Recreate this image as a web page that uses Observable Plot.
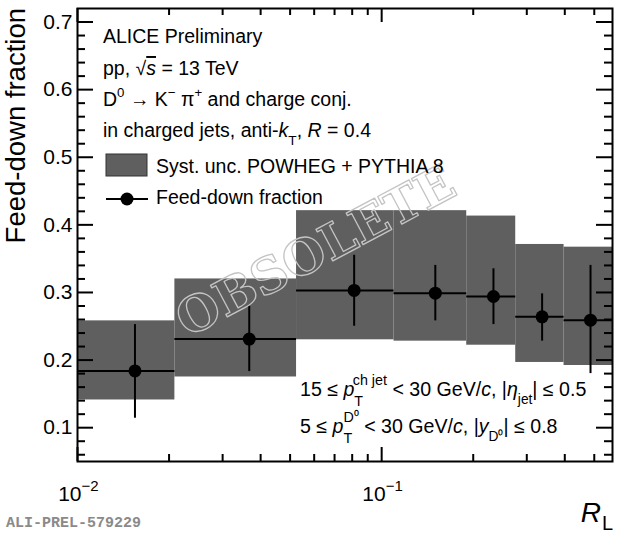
<!DOCTYPE html>
<html>
<head>
<meta charset="utf-8">
<script src="https://cdn.jsdelivr.net/npm/d3@7"></script>
<script src="https://cdn.jsdelivr.net/npm/@observablehq/plot@0.6"></script>
<style>
  html, body { margin: 0; padding: 0; background: white; }
  svg { display: block; }
</style>
</head>
<body>
<script>
// ---- data ----
const binLo    = [0.01,   0.0209, 0.0525, 0.1098, 0.1904, 0.2759, 0.3978];
const binHi    = [0.0209, 0.0525, 0.1098, 0.1904, 0.2759, 0.3978, 0.574];
const binMid   = [0.01545, 0.0367, 0.0812, 0.1501, 0.2331, 0.3369, 0.486];
const fraction = [0.184, 0.231, 0.303, 0.299, 0.294, 0.264, 0.259];
const statLo   = [0.114, 0.183, 0.250, 0.258, 0.2525, 0.228, 0.180];
const statHi   = [0.2525, 0.2795, 0.355, 0.340, 0.335, 0.298, 0.340];
const systLo   = [0.141, 0.175, 0.230, 0.228, 0.222, 0.1965, 0.192];
const systHi   = [0.258, 0.320, 0.421, 0.421, 0.413, 0.371, 0.367];

const xDomain = [0.01, 0.574];
const yDomain = [0.05, 0.72];
const yMajor = [0.1, 0.2, 0.3, 0.4, 0.5, 0.6, 0.7];
const yMinor = [0.06, 0.08, 0.12, 0.14, 0.16, 0.18, 0.22, 0.24, 0.26, 0.28, 0.32, 0.34, 0.36, 0.38,
                0.42, 0.44, 0.46, 0.48, 0.52, 0.54, 0.56, 0.58, 0.62, 0.64, 0.66, 0.68];
const xMajor = [0.01, 0.1];
const xMinor = [0.02, 0.03, 0.04, 0.05, 0.06, 0.07, 0.08, 0.09, 0.2, 0.3, 0.4, 0.5];

const rows = binMid.map((c, i) => ({
  lo: binLo[i], hi: binHi[i], c, f: fraction[i],
  sLo: statLo[i], sHi: statHi[i], yLo: systLo[i], yHi: systHi[i]
}));

// ---- layout ----
const W = 620, H = 535, mL = 77, mR = 8, mT = 8, mB = 74;
const pW = W - mL - mR, pH = H - mT - mB;
const FONT = "'Liberation Sans', Arial, Helvetica, sans-serif";
const GRAY = "#5f5f5f";

const svg = Plot.plot({
  width: W, height: H,
  marginLeft: mL, marginRight: mR, marginTop: mT, marginBottom: mB,
  style: { fontFamily: FONT, background: "white", color: "black" },
  x: { type: "log", domain: xDomain, axis: null },
  y: { domain: yDomain },
  marks: [
    Plot.rect(rows, { x1: "lo", x2: "hi", y1: "yLo", y2: "yHi", fill: GRAY }),
    Plot.ruleY(rows, { x1: "lo", x2: "hi", y: "f", stroke: "black", strokeWidth: 2 }),
    Plot.ruleX(rows, { x: "c", y1: "sLo", y2: "sHi", stroke: "black", strokeWidth: 2 }),
    Plot.dot(rows, { x: "c", y: "f", r: 6.5, fill: "black", stroke: "none" }),
    // watermark
    Plot.text(["OBSOLETE"], {
      frameAnchor: "middle", text: d => d, rotate: -28, dx: -29, dy: 17,
      fontSize: 49, fontFamily: "'DejaVu Serif', 'Liberation Serif', serif", fontWeight: "bold",
      fill: "none", stroke: "#c4c4c4", strokeWidth: 1.3
    }),
    // y ticks (inside, left and right)
    Plot.tickY(yMajor, { y: d => d, insetRight: pW - 16, strokeWidth: 2 }),
    Plot.tickY(yMinor, { y: d => d, insetRight: pW - 8, strokeWidth: 2 }),
    Plot.tickY(yMajor, { y: d => d, insetLeft: pW - 16, strokeWidth: 2 }),
    Plot.tickY(yMinor, { y: d => d, insetLeft: pW - 8, strokeWidth: 2 }),
    // x ticks (inside, bottom and top)
    Plot.tickX(xMajor, { x: d => d, insetTop: pH - 14, strokeWidth: 2 }),
    Plot.tickX(xMinor, { x: d => d, insetTop: pH - 7, strokeWidth: 2 }),
    Plot.tickX(xMajor, { x: d => d, insetBottom: pH - 14, strokeWidth: 2 }),
    Plot.tickX(xMinor, { x: d => d, insetBottom: pH - 7, strokeWidth: 2 }),
    Plot.frame({ stroke: "black", strokeWidth: 2 }),
    Plot.axisY(yMajor, { tickSize: 0, tickPadding: 5, fontSize: 21, label: null,
      tickFormat: d => d.toFixed(1) }),
    // x tick labels 10^n
    Plot.text(xMajor, { x: d => d, frameAnchor: "bottom", text: () => "10",
      textAnchor: "end", dx: 4, dy: 39, lineAnchor: "bottom", fontSize: 21 }),
    Plot.text(xMajor, { x: d => d, frameAnchor: "bottom", text: d => "\u2212" + Math.round(-Math.log10(d)),
      textAnchor: "start", dx: 4, dy: 29, lineAnchor: "bottom", fontSize: 15 })
  ]
});
document.body.append(svg);

const s = d3.select(svg);

function rich(x, y, size, parts, anchor) {
  const t = s.append("text").attr("x", x).attr("y", y).attr("font-size", size)
    .attr("font-family", FONT).attr("fill", "black")
    .attr("text-anchor", anchor || "start");
  let cur = 0, pend = 0;
  const add = (txt, shift, fs, p) => {
    const ts = t.append("tspan").text(txt).attr("dy", shift - cur).attr("font-size", fs);
    if (pend) { ts.attr("dx", pend); pend = 0; }
    if (p && p.i) ts.attr("font-style", "italic");
    if (p && p.o) ts.style("text-decoration", "overline");
    cur = shift;
    return ts;
  };
  for (const p of parts) {
    if (typeof p === "string") add(p, 0, size);
    else if (p.stack) {
      const fs = size * 0.73;
      const a = add(p.stack[0], 0.52 * size, fs);
      const la = a.node().getComputedTextLength();
      const b = t.append("tspan").text(p.stack[1]).attr("dy", -0.56 * size - cur)
        .attr("dx", -la).attr("font-size", fs);
      cur = -0.56 * size;
      const lb = b.node().getComputedTextLength();
      if (la > lb) pend = la - lb;
    } else if (p.sup) add(p.t, -0.48 * size, size * 0.68, p);
    else if (p.sub) add(p.t, 0.42 * size, size * 0.7, p);
    else add(p.t, 0, size, p);
  }
  return t;
}

// header text
const TS = 19.5;
rich(103, 43, TS, ["ALICE Preliminary"]);
rich(103, 75, TS, ["pp, ", "\u221A", { t: "s", i: 1, o: 1 }, " = 13 TeV"]);
rich(103, 106, TS, ["D", { t: "0", sup: 1 }, " \u2192 K", { t: "\u2212", sup: 1 }, " \u03C0", { t: "+", sup: 1 }, " and charge conj."]);
rich(103, 137, TS, ["in charged jets, anti-", { t: "k", i: 1 }, { t: "T", sub: 1 }, ", ", { t: "R", i: 1 }, " = 0.4"]);

// legend
s.append("rect").attr("x", 106).attr("y", 154).attr("width", 41).attr("height", 22)
  .attr("fill", GRAY).attr("stroke", "#333").attr("stroke-width", 1);
rich(156, 173, TS, ["Syst. unc. POWHEG + PYTHIA 8"]);
s.append("line").attr("x1", 106).attr("x2", 148).attr("y1", 199).attr("y2", 199)
  .attr("stroke", "black").attr("stroke-width", 2);
s.append("circle").attr("cx", 127).attr("cy", 199).attr("r", 6.5).attr("fill", "black");
rich(156, 204, TS, ["Feed-down fraction"]);

// kinematic selection text
const KS = 19.6;
rich(300, 396, KS, ["15 \u2264 ", { t: "p", i: 1 }, { stack: ["T", "ch jet"] }, " < 30 GeV/", { t: "c", i: 1 },
  ", |", { t: "\u03B7", i: 1 }, { t: "jet", sub: 1 }, "| \u2264 0.5"]);
rich(300, 433, KS, ["5 \u2264 ", { t: "p", i: 1 }, { stack: ["T", "D\u2070"] }, " < 30 GeV/", { t: "c", i: 1 },
  ", |", { t: "y", i: 1 }, { t: "D\u2070", sub: 1 }, "| \u2264 0.8"]);

// axis titles
s.append("text").attr("transform", "translate(25,8) rotate(-90)")
  .attr("text-anchor", "end").attr("font-size", 27.5).attr("font-family", FONT)
  .attr("fill", "black").text("Feed-down fraction");
const rl = s.append("text").attr("x", 613).attr("y", 521.5).attr("text-anchor", "end")
  .attr("font-family", FONT).attr("fill", "black");
rl.append("tspan").attr("font-size", 28).attr("font-style", "italic").text("R");
rl.append("tspan").attr("font-size", 20).attr("dy", 8.5).attr("dx", 1).text("L");

// preliminary tag
s.append("text").attr("x", 6).attr("y", 527).attr("font-size", 15).attr("text-anchor", "start")
  .attr("font-family", "'Liberation Mono', 'Courier New', monospace").attr("font-weight", "bold")
  .attr("fill", "#8a8a8a").text("ALI-PREL-579229");
</script>
</body>
</html>
